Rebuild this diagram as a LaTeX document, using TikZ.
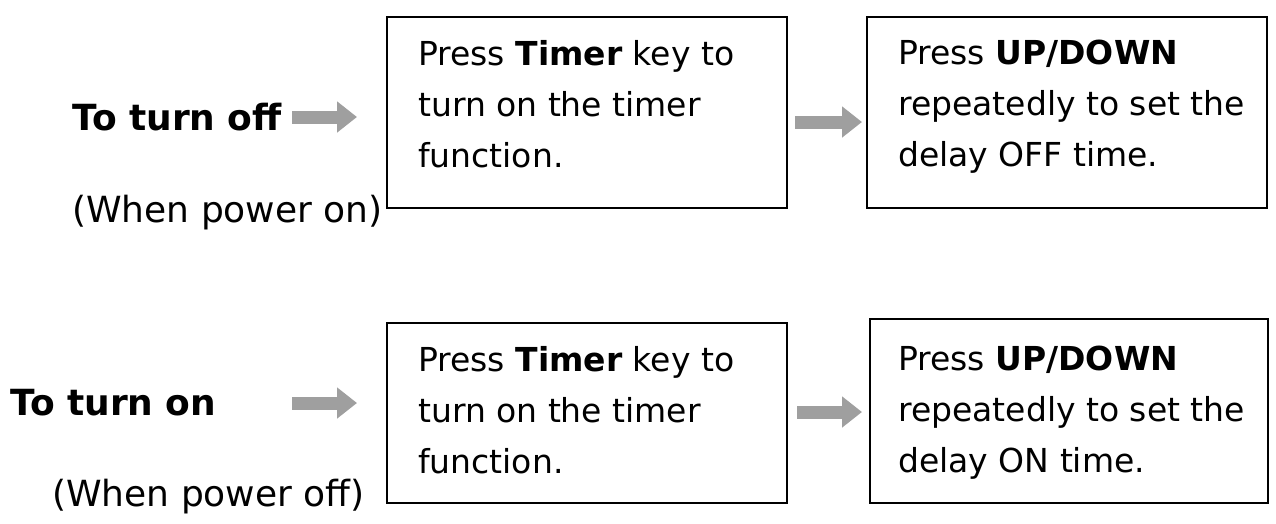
\documentclass[tikz,border=0pt]{standalone}
\usepackage{fontspec}
\setmainfont{DejaVu Sans}
\usetikzlibrary{arrows.meta}
\begin{document}
\begin{tikzpicture}[x=1pt,y=-1pt,
  box/.style={draw,line width=2pt},
  txt/.style={anchor=north west,align=left,inner sep=0,font=\fontsize{33}{51}\selectfont},
  lab/.style={anchor=west,inner sep=0,font=\fontsize{36}{40}\selectfont},
  garrow/.style={draw=gray!75,line width=13pt,-{Triangle[width=30pt,length=20pt]}}]
\useasboundingbox[fill=white] (0,0) rectangle (1276,523);
\draw[box] (387,17) rectangle (787,208);
\draw[box] (867,17) rectangle (1267,208);
\draw[box] (387,323) rectangle (787,503);
\draw[box] (870,319) rectangle (1268,503);
\node[txt] (a1) at (418,40) {Press \textbf{Timer} key to\\turn on the timer\\function.};
\node[txt] (a2) at (898,40) {Press \textbf{UP/DOWN}\\repeatedly to set the\\delay OFF time.};
\node[txt] (b1) at (418,346) {Press \textbf{Timer} key to\\turn on the timer\\function.};
\node[txt] (b2) at (898,346) {Press \textbf{UP/DOWN}\\repeatedly to set the\\delay ON time.};
\node[lab] (l1) at (72,117) {\textbf{To turn off}};
\node[lab] (l2) at (72,213) {(When power on)};
\node[lab] (l3) at (10,403) {\textbf{To turn on}};
\node[lab] (l4) at (52,497) {(When power off)};
\coordinate (p1) at (292,117); \coordinate (q1) at (357,117);
\coordinate (p2) at (795,122); \coordinate (q2) at (862,122);
\coordinate (p3) at (292,403); \coordinate (q3) at (357,403);
\coordinate (p4) at (797,412); \coordinate (q4) at (862,412);
\draw[garrow] (p1) -- (q1);
\draw[garrow] (p2) -- (q2);
\draw[garrow] (p3) -- (q3);
\draw[garrow] (p4) -- (q4);
\end{tikzpicture}
\end{document}
